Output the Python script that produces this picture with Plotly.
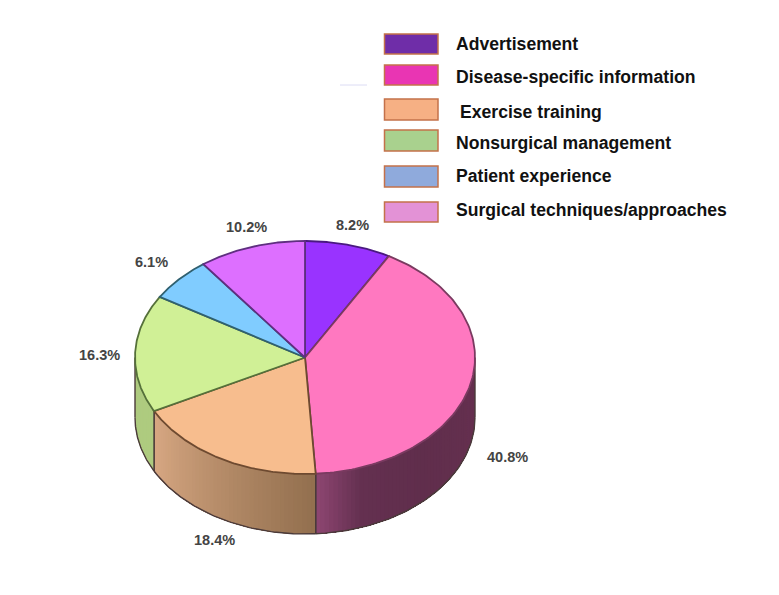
import numpy as np
import plotly.graph_objects as go

categories = ["Advertisement", "Disease-specific information", "Exercise training",
              "Nonsurgical management", "Patient experience", "Surgical techniques/approaches"]
values = [8.2, 40.8, 18.4, 16.3, 6.1, 10.2]
value_labels = ["8.2%", "40.8%", "18.4%", "16.3%", "6.1%", "10.2%"]
legend_colors = ["#6f2da8", "#e935b3", "#f6b084", "#a9d18e", "#8faadc", "#e392d6"]
top_colors = ["#9933ff", "#ff78c0", "#f7bd8e", "#d0f096", "#80ccff", "#dd6fff"]
edge_colors = ["#4a1a80", "#7a3a60", "#6e4a30", "#55703a", "#2f6070", "#5f2f80"]

CX, CY, RX, RY, DEPTH = 305, 357.5, 170, 116.5, 60
W, H = 779, 595

# side colours along the rim, per slice
side_grad = {1: [(0.0, (102, 48, 80)), (0.55, (96, 46, 76)), (0.82, (100, 48, 80)), (1.0, (142, 70, 114))],
             2: [(0.0, (146, 111, 78)), (1.0, (216, 168, 131))],
             3: [(0.0, (174, 203, 127)), (1.0, (174, 203, 127))]}

def ell(a, dy=0.0):
    a = np.radians(a)
    return CX + RX * np.sin(a), CY - RY * np.cos(a) + dy

def lerp(stops, t):
    for (t0, c0), (t1, c1) in zip(stops, stops[1:]):
        if t <= t1:
            f = (t - t0) / (t1 - t0) if t1 > t0 else 0
            return tuple(int(round(c0[i] + (c1[i] - c0[i]) * f)) for i in range(3))
    return stops[-1][1]

fig = go.Figure()
edges = np.concatenate([[0], np.cumsum(values)]) / sum(values) * 360

# rim (front half only): overlapping bands painted in order, so no seams show
for i in range(len(values)):
    a0, a1 = edges[i], edges[i + 1]
    lo, hi = max(a0, 90), min(a1, 270)
    if hi <= lo or i not in side_grad:
        continue
    n = max(int((hi - lo) / 1.5), 1)
    steps = np.linspace(lo, hi, n + 1)
    for j in range(n):
        s = np.linspace(steps[j], hi, 60)
        x0, y0 = ell(s)
        x1, y1 = ell(s[::-1], DEPTH)
        col = "rgb(%d,%d,%d)" % lerp(side_grad[i], (j + .5) / n)
        fig.add_trace(go.Scatter(x=np.r_[x0, x1], y=np.r_[y0, y1], mode="none", fill="toself",
                                 fillcolor=col, hoverinfo="skip"))
    s = np.linspace(lo, hi, 80)
    x1, y1 = ell(s, DEPTH)
    fig.add_trace(go.Scatter(x=x1, y=y1, mode="lines", line=dict(color="#4a3a3a", width=1.4), hoverinfo="skip"))
    for a in (lo, hi):
        xa, ya = ell(a); xb, yb = ell(a, DEPTH)
        fig.add_trace(go.Scatter(x=[xa, xb], y=[ya, yb], mode="lines",
                                 line=dict(color="#4a3a3a", width=1.4), hoverinfo="skip"))

# top face
for i in range(len(values)):
    s = np.linspace(edges[i], edges[i + 1], 120)
    x, y = ell(s)
    fig.add_trace(go.Scatter(x=np.r_[CX, x, CX], y=np.r_[CY, y, CY], mode="lines", fill="toself",
                             fillcolor=top_colors[i], line=dict(color=edge_colors[i], width=1.8),
                             name=categories[i], hovertemplate=categories[i] + ": " + value_labels[i] + "<extra></extra>"))

# outside value labels
label_pos = [(352, 225), (507, 457), (214, 540), (99, 355), (151, 262), (246, 227)]
for (lx, ly), t in zip(label_pos, value_labels):
    fig.add_annotation(x=lx, y=ly, text="<b>%s</b>" % t, showarrow=False, xanchor="center", yanchor="middle",
                       font=dict(family="Liberation Sans Narrow, Liberation Sans, sans-serif", size=14.5, color="#444444"))

# hand-placed key
sw_y = [(34, 54), (65, 85), (99, 120), (130, 151), (166, 187), (202, 222)]
txt_y = [44, 77, 112, 143, 176, 210]
txt_x = [454, 454, 458, 454, 454, 454]
for c, (y0, y1), ty, tx, name in zip(legend_colors, sw_y, txt_y, txt_x, categories):
    fig.add_shape(type="rect", x0=384.5, x1=438, y0=y0, y1=y1, fillcolor=c, line=dict(color="#c4714a", width=1.5))
    fig.add_annotation(x=tx, y=ty, text="<b>%s</b>" % name, showarrow=False, xanchor="left", yanchor="middle",
                       font=dict(family="Liberation Sans, Arial, sans-serif", size=17.6, color="#111111"))
fig.add_shape(type="line", x0=340, x1=367, y0=85, y1=85, line=dict(color="#dcdcf4", width=1))

fig.update_layout(width=W, height=H, margin=dict(l=0, r=0, t=0, b=0), showlegend=False,
                  paper_bgcolor="white", plot_bgcolor="white",
                  xaxis=dict(range=[0, W], visible=False, fixedrange=True),
                  yaxis=dict(range=[H, 0], visible=False, fixedrange=True))
fig.write_html("out.html", config={"displayModeBar": False},
               post_script="document.body.style.margin='0';")
